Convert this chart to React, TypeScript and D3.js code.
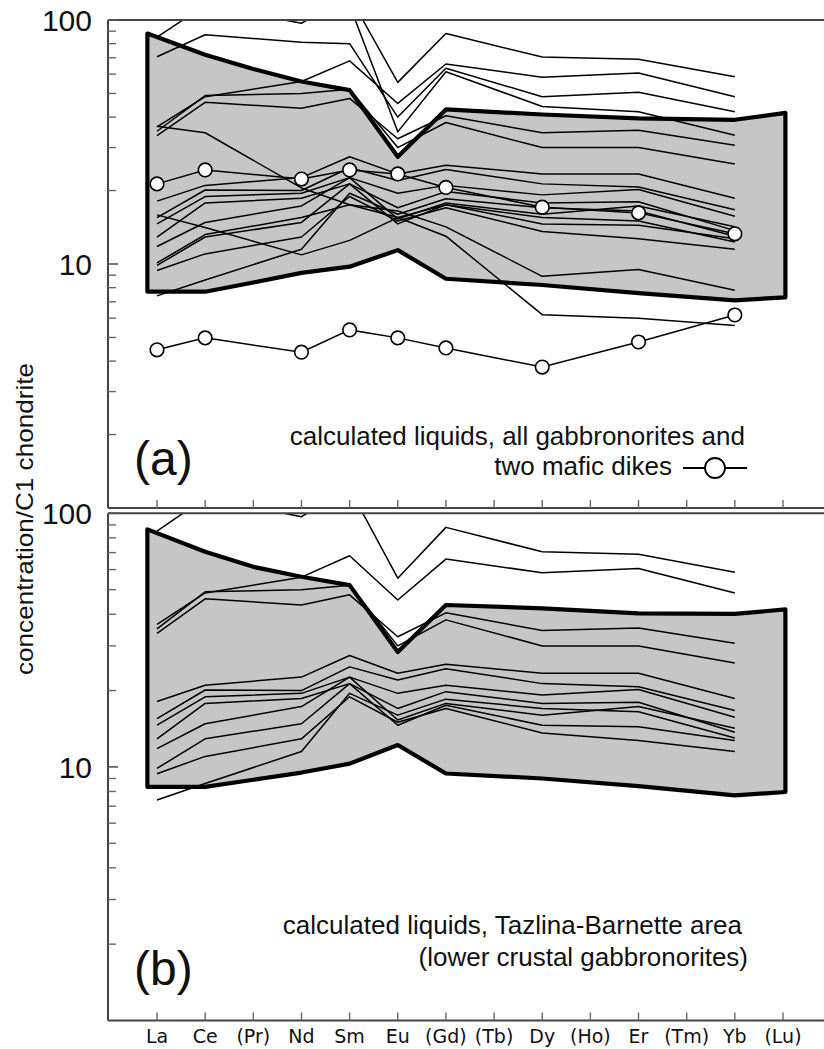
import React from "react";
import * as d3 from "d3";

// ---------- data ----------
const elements = ["La", "Ce", "(Pr)", "Nd", "Sm", "Eu", "(Gd)", "(Tb)", "Dy", "(Ho)", "Er", "(Tm)", "Yb", "(Lu)"];
// element index of each sampled point of the spider lines
const sampleIdx = [0, 1, 3, 4, 5, 6, 8, 10, 12];

// shaded envelope (element index positions)
const envelopeIdx = [-0.2, 1, 2, 3, 4, 5, 6, 8, 10, 12, 13.05];
const envUpperA = [88, 72, 63, 56, 51.6, 27.5, 43, 41, 39.5, 39, 41.6];
const envLowerA = [7.7, 7.7, 8.4, 9.2, 9.75, 11.4, 8.7, 8.2, 7.6, 7.1, 7.3];
const envUpperB = [86.4, 70.5, 61.5, 56.2, 52.1, 28.4, 43.5, 42.2, 40.3, 40.1, 41.8];
const envLowerB = [8.34, 8.34, 8.9, 9.5, 10.3, 12.2, 9.42, 9.0, 8.4, 7.72, 7.96];

// calculated liquids (La, Ce, Nd, Sm, Eu, Gd, Dy, Er, Yb)
const liqU1 = [85, 115, 97, 125, 55.5, 88, 70.5, 69, 58.5];
const liqU2 = [36.5, 48.5, 56, 68, 45.5, 66, 58.3, 60.6, 48.5];
const liqU3 = [70.7, 87, 81, 80, 40, 63.4, 48.5, 50.6, 42.1];
const liqU4 = [110, 130, 120, 115, 34.8, 61.4, 44.2, 42.1, 33.7];
const liqU5 = [33.6, 46, 43.5, 47.7, 32.6, 40.5, 34.5, 35.3, 30.7];
const liqU6 = [35, 49, 50, 52, 30, 38, 30, 30, 25.7];
const liqL1 = [18.1, 21.0, 22.6, 27.5, 23.4, 25.4, 23.4, 23.4, 18.6];
const liqL2 = [15.5, 20.1, 20.0, 24.8, 22.0, 24.4, 21.3, 20.7, 16.7];
const liqL3 = [14.6, 18.9, 19.5, 22.6, 19.5, 21.0, 19.2, 20.2, 15.7];
const liqL4 = [12.9, 17.8, 18.6, 21.3, 17.0, 19.8, 17.8, 18.0, 13.7];
const liqL5 = [11.8, 14.8, 17.3, 22.6, 15.3, 17.8, 16.0, 17.3, 14.2];
const liqL6 = [9.87, 12.9, 14.8, 21.3, 14.6, 17.5, 14.6, 14.4, 12.7];
const liqL7 = [9.4, 11.0, 12.9, 18.9, 15.0, 17.0, 13.6, 12.7, 11.5];
const liqL8 = [7.4, 8.6, 11.5, 19.5, 16.0, 18.5, 17.0, 16.5, 13.0];
const liqX1 = [36.7, 34.5, 20.5, 17.5, 15.5, 13.0, 6.2, 6.0, 5.6];
const liqX2 = [15.9, 14.1, 10.9, 12.5, 15.5, 17.5, 15.5, 15.0, 12.3];
const liqX3 = [10.1, 13.2, 15.5, 17.5, 16.5, 14.2, 8.9, 9.5, 7.8];
// mafic dikes (circles)
const dike1 = [21.3, 24.3, 22.3, 24.3, 23.4, 20.6, 17.1, 16.2, 13.3];
const dike2 = [4.45, 4.98, 4.35, 5.37, 4.98, 4.53, 3.78, 4.79, 6.18];

const linesA = [liqU1, liqU2, liqU3, liqU4, liqU5, liqU6, liqL1, liqL2, liqL3, liqL4, liqL5, liqL6, liqL7, liqL8, liqX1, liqX2, liqX3];
const linesB = [liqU1, liqU2, liqU5, liqU6, liqL1, liqL2, liqL3, liqL4, liqL5, liqL6, liqL7, liqL8];
const dikesA = [dike1, dike2];

const yMajor = [10, 100];
const yMinor = [2, 3, 4, 5, 6, 7, 8, 9, 20, 30, 40, 50, 60, 70, 80, 90];

// ---------- layout ----------
const W = 824;
const H = 1049;
const axisLeft = 108;
const x = d3.scaleLinear().domain([0, 13]).range([157, 783]);

const panels = [
  {
    id: "a", top: 20, bottom: 508, lines: linesA, dikes: dikesA,
    envU: envUpperA, envL: envLowerA, label: "(a)", labelY: 475,
    text: ["calculated liquids, all gabbronorites and", "two mafic dikes"],
  },
  {
    id: "b", top: 513.3, bottom: 1020.5, lines: linesB, dikes: [],
    envU: envUpperB, envL: envLowerB, label: "(b)", labelY: 985,
    text: ["calculated liquids, Tazlina-Barnette area", "(lower crustal gabbronorites)"],
  },
];

const sans = "'Liberation Sans', Arial, Helvetica, sans-serif";

function Panel({ p }: { p: any }) {
  const y = d3.scaleLog().domain([1, 100]).range([p.bottom, p.top]);
  const line = d3
    .line<number>()
    .x((_, i) => x(sampleIdx[i]))
    .y((v) => y(v));
  const envPts: [number, number][] = [
    ...envelopeIdx.map((e, i) => [x(e), y(p.envU[i])] as [number, number]),
    ...envelopeIdx
      .map((e, i) => [x(e), y(p.envL[i])] as [number, number])
      .reverse(),
  ];
  const envPath = d3.line()(envPts) + "Z";
  const clipId = "clip-" + p.id;
  return (
    <g>
      <defs>
        <clipPath id={clipId}>
          <rect x={axisLeft} y={p.top} width={W - axisLeft} height={p.bottom - p.top} />
        </clipPath>
      </defs>
      <g clipPath={`url(#${clipId})`}>
        <path d={envPath} fill="#c6c6c6" stroke="#000" strokeWidth={4.2} strokeLinejoin="round" />
        {p.lines.map((vals: number[], i: number) => (
          <path key={i} d={line(vals) || ""} fill="none" stroke="#000" strokeWidth={1.5} strokeLinejoin="round" />
        ))}
        {p.dikes.map((vals: number[], i: number) => (
          <g key={"d" + i}>
            <path d={line(vals) || ""} fill="none" stroke="#000" strokeWidth={1.5} />
            {vals.map((v, j) => (
              <circle key={j} cx={x(sampleIdx[j])} cy={y(v)} r={6.8} fill="#fff" stroke="#000" strokeWidth={1.6} />
            ))}
          </g>
        ))}
      </g>
      {/* frame */}
      <line x1={axisLeft} x2={W} y1={p.top} y2={p.top} stroke="#444" strokeWidth={2} />
      <line x1={axisLeft} x2={W} y1={p.bottom} y2={p.bottom} stroke="#444" strokeWidth={2} />
      <line x1={axisLeft} x2={axisLeft} y1={p.top} y2={p.bottom} stroke="#444" strokeWidth={2} />
      {/* y ticks */}
      {yMinor.map((v) => (
        <line key={"m" + v} x1={axisLeft} x2={axisLeft + 8} y1={y(v)} y2={y(v)} stroke="#666" strokeWidth={1.4} />
      ))}
      {yMajor.map((v) => (
        <g key={"M" + v}>
          <line x1={axisLeft} x2={axisLeft + 10} y1={y(v)} y2={y(v)} stroke="#555" strokeWidth={1.6} />
          <text x={92} y={y(v) + 11} textAnchor="end" fontFamily={sans} fontSize={30} fill="#111">
            {v}
          </text>
        </g>
      ))}
      {/* x ticks */}
      {elements.map((_, i) => (
        <line key={"x" + i} x1={x(i)} x2={x(i)} y1={p.bottom} y2={p.bottom - 8} stroke="#666" strokeWidth={1.4} />
      ))}
      {/* panel label */}
      <text x={134} y={p.labelY} fontFamily={sans} fontSize={48} fill="#111">
        {p.label}
      </text>
    </g>
  );
}

export default function App() {
  const pa = panels[0];
  const pb = panels[1];
  return (
    <div style={{ position: "fixed", left: 0, top: 0, width: W, height: H, overflow: "hidden", background: "#fff" }}>
      <svg width={W} height={H} style={{ display: "block" }}>
        <rect width={W} height={H} fill="#fff" />
        <Panel p={pa} />
        <Panel p={pb} />
        {/* panel (a) annotation */}
        <text x={745} y={445} textAnchor="end" fontFamily={sans} fontSize={26} fill="#111">
          {pa.text[0]}
        </text>
        <text x={672} y={475} textAnchor="end" fontFamily={sans} fontSize={26} fill="#111">
          {pa.text[1]}
        </text>
        <line x1={683} x2={747} y1={468} y2={468} stroke="#000" strokeWidth={1.8} />
        <circle cx={715} cy={468} r={10} fill="#fff" stroke="#000" strokeWidth={1.8} />
        {/* panel (b) annotation */}
        <text x={742} y={934} textAnchor="end" fontFamily={sans} fontSize={26} fill="#111">
          {pb.text[0]}
        </text>
        <text x={748} y={966} textAnchor="end" fontFamily={sans} fontSize={26} fill="#111">
          {pb.text[1]}
        </text>
        {/* x labels */}
        {elements.map((e, i) => (
          <text key={e} x={x(i)} y={1043} textAnchor="middle" fontFamily="'DejaVu Sans', Verdana, sans-serif" fontSize={19} fill="#111">
            {e}
          </text>
        ))}
        {/* y axis title */}
        <text
          transform="translate(33,519) rotate(-90)"
          textAnchor="middle"
          fontFamily={sans}
          fontSize={24}
          textLength={312}
          lengthAdjust="spacingAndGlyphs"
          fill="#111"
        >
          concentration/C1 chondrite
        </text>
      </svg>
    </div>
  );
}
